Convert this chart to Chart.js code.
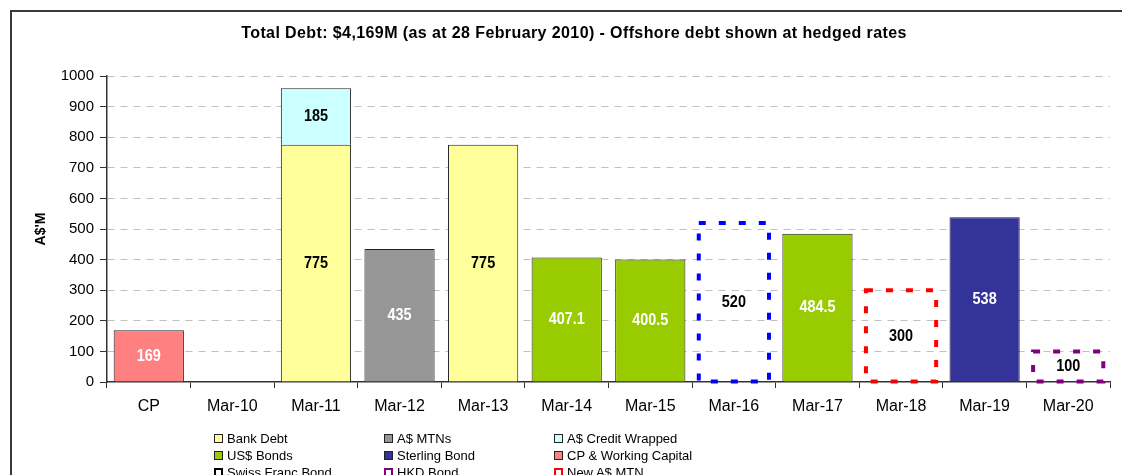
<!DOCTYPE html>
<html>
<head>
<meta charset="utf-8">
<script src="https://cdn.jsdelivr.net/npm/chart.js@4.4.0/dist/chart.umd.min.js"></script>
<style>
  html, body { margin: 0; padding: 0; width: 1122px; height: 475px; overflow: hidden; background: #fff; }
  #frame { position: absolute; left: 10px; top: 10px; width: 1200px; height: 600px; border: 2px solid #3a3a3a; box-sizing: border-box; }
  #chart { position: absolute; left: 0; top: 0; }
  #title { position: absolute; left: 0; top: 24px; width: 1148px; text-align: center; letter-spacing: 0.4px;
           font: bold 16px "Liberation Sans", Arial, sans-serif; color: #000; }
  #legend { position: absolute; left: 214px; top: 430px; display: grid;
            grid-template-columns: 170px 170px 170px;
            font: 13px "Liberation Sans", Arial, sans-serif; color: #000; }
  .item { height: 17px; display: flex; align-items: center; white-space: nowrap; }
  .swatch { width: 9px; height: 9px; box-sizing: border-box; margin-right: 4px; flex: none; }
</style>
</head>
<body>
<div id="frame"></div>
<canvas id="chart" width="1122" height="475"></canvas>
<div id="title"></div>
<div id="legend"></div>
<script>
// ---- données ----
const chartTitle = "Total Debt: $4,169M (as at 28 February 2010) - Offshore debt shown at hedged rates";
const yAxisTitle = "A$'M";
const categories = ["CP", "Mar-10", "Mar-11", "Mar-12", "Mar-13", "Mar-14", "Mar-15", "Mar-16", "Mar-17", "Mar-18", "Mar-19", "Mar-20"];

const bankDebt       = [null, null, 775, null, 775, null, null, null, null, null, null, null];
const audMtns        = [null, null, null, 435, null, null, null, null, null, null, null, null];
const creditWrapped  = [null, null, 185, null, null, null, null, null, null, null, null, null];
const usBonds        = [null, null, null, null, null, 407.1, 400.5, null, 484.5, null, null, null];
const sterlingBond   = [null, null, null, null, null, null, null, null, null, null, 538, null];
const cpWorking      = [169, null, null, null, null, null, null, null, null, null, null, null];
const swissFrancBond = [null, null, null, null, null, null, null, 520, null, null, null, null];
const hkdBond        = [null, null, null, null, null, null, null, null, null, null, null, 100];
const newAudMtn      = [null, null, null, null, null, null, null, null, null, 300, null, null];

const FONT = '"Liberation Sans", Arial, sans-serif';

// series : nom, données, remplissage, couleur du libellé, trait pointillé éventuel
const series = [
  { label: "Bank Debt",            data: bankDebt,       fill: "#FFFF99", text: "#000" },
  { label: "A$ MTNs",              data: audMtns,        fill: "#969696", text: "#fff" },
  { label: "A$ Credit Wrapped",    data: creditWrapped,  fill: "#CCFFFF", text: "#000" },
  { label: "US$ Bonds",            data: usBonds,        fill: "#99CC00", text: "#fff" },
  { label: "Sterling Bond",        data: sterlingBond,   fill: "#333399", text: "#fff" },
  { label: "CP & Working Capital", data: cpWorking,      fill: "#FF8080", text: "#fff" },
  { label: "Swiss Franc Bond",     data: swissFrancBond, dash: "#0000FF", legendColor: "#000", text: "#000" },
  { label: "HKD Bond",             data: hkdBond,        dash: "#800080", text: "#000" },
  { label: "New A$ MTN",           data: newAudMtn,      dash: "#FF0000", text: "#000" }
];

const datasets = series.map(s => ({
  label: s.label,
  data: s.data,
  backgroundColor: s.dash ? "rgba(0,0,0,0)" : s.fill,
  borderColor: "#222",
  borderWidth: s.dash ? 0 : 1,
  dashColor: s.dash || null,
  valueColor: s.text,
  barPercentage: 0.84,
  categoryPercentage: 1
}));

// cadres pointillés + valeurs au centre des barres
const barDecor = {
  id: "barDecor",
  afterDatasetsDraw(chart) {
    const ctx = chart.ctx;
    chart.data.datasets.forEach((ds, di) => {
      const meta = chart.getDatasetMeta(di);
      meta.data.forEach((bar, i) => {
        const v = ds.data[i];
        if (v == null) return;
        const { x, y, base, width } = bar.getProps(["x", "y", "base", "width"], true);
        if (ds.dashColor) {
          ctx.save();
          ctx.strokeStyle = ds.dashColor;
          ctx.lineWidth = 4;
          ctx.setLineDash([7, 13]);
          ctx.strokeRect(x - width / 2, y, width, base - y);
          ctx.restore();
        }
        ctx.save();
        ctx.font = "bold 17px " + FONT;
        ctx.fillStyle = ds.valueColor;
        ctx.textAlign = "center";
        ctx.textBaseline = "middle";
        ctx.translate(x, (y + base) / 2);
        ctx.scale(0.85, 1);
        ctx.fillText(String(v), 0, 0);
        ctx.restore();
      });
    });
  }
};

new Chart(document.getElementById("chart"), {
  type: "bar",
  data: { labels: categories, datasets },
  plugins: [barDecor],
  options: {
    responsive: false,
    animation: false,
    devicePixelRatio: 1,
    layout: { padding: { left: 12, right: 12, top: 76, bottom: 48 } },
    plugins: { legend: { display: false }, tooltip: { enabled: false } },
    scales: {
      x: {
        stacked: true,
        offset: true,
        ticks: { font: { size: 16, family: FONT }, color: "#000", padding: 9, maxRotation: 0, autoSkip: false },
        grid: { offset: true, drawOnChartArea: false, tickLength: 6, tickColor: "#333" },
        border: { color: "#333", width: 1.5 },
        afterFit: s => { s.height = 45; }
      },
      y: {
        stacked: true,
        min: 0,
        max: 1000,
        ticks: { stepSize: 100, font: { size: 15, family: FONT }, color: "#000", padding: 6,
                 callback: v => String(v) },
        grid: {
          color: c => (c.tick && c.tick.value === 0) ? "rgba(0,0,0,0)" : "#c0c0c0",
          tickColor: "#333",
          tickLength: 7
        },
        border: { color: "#333", width: 1.5, dash: [7, 6] },
        title: { display: true, text: yAxisTitle, color: "#000",
                 font: { size: 14, weight: "bold", family: FONT }, padding: { top: 21, bottom: 0 } },
        afterFit: s => { s.width = 95; }
      }
    }
  }
});

// titre et légende en HTML (colonnes fixes comme l'original)
document.getElementById("title").textContent = chartTitle;
const legend = document.getElementById("legend");
series.forEach(s => {
  const item = document.createElement("div");
  item.className = "item";
  const sw = document.createElement("span");
  sw.className = "swatch";
  if (s.dash) {
    sw.style.border = "2px dashed " + (s.legendColor || s.dash);
  } else {
    sw.style.background = s.fill;
    sw.style.border = "1px solid #222";
  }
  item.appendChild(sw);
  item.appendChild(document.createTextNode(s.label));
  legend.appendChild(item);
});
</script>
</body>
</html>
